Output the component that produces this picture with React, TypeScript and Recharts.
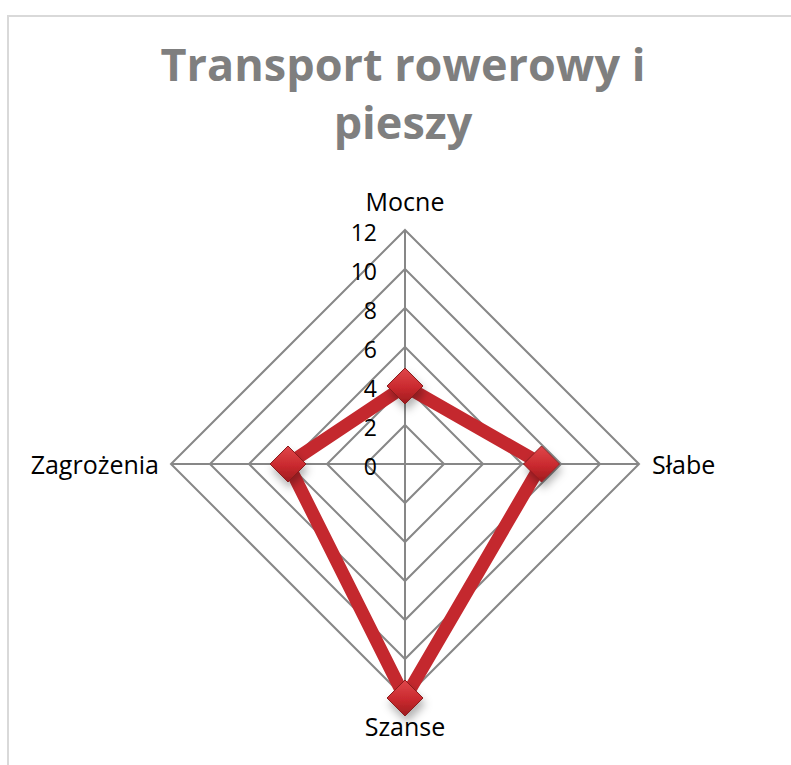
import React from "react";
import {
  RadarChart,
  Radar,
  PolarGrid,
  PolarAngleAxis,
  PolarRadiusAxis,
} from "recharts";

const categories = ["Mocne", "Słabe", "Szanse", "Zagrożenia"];
const values = [4, 7, 12, 6];
const titleLines = ["Transport rowerowy i", "pieszy"];

const data = categories.map((name, i) => ({ name, value: values[i] }));

const LABEL_FONT = "'Open Sans', sans-serif";

// axis label offsets around the outer polygon
const AngleTick = (props: any) => {
  const { x, y, payload } = props;
  const name = payload.value;
  let tx = x;
  let ty = y;
  let anchor: any = "middle";
  if (name === "Mocne") ty = y - 21;
  else if (name === "Szanse") ty = y + 20;
  else if (name === "Słabe") {
    tx = x + 5;
    anchor = "start";
  } else {
    tx = x - 4;
    anchor = "end";
  }
  return (
    <text
      x={tx}
      y={ty}
      textAnchor={anchor}
      dominantBaseline="central"
      fontFamily={LABEL_FONT}
      fontSize={25}
      fill="#000"
    >
      {name}
    </text>
  );
};

const RadiusTick = (props: any) => {
  const { x, y, payload } = props;
  return (
    <text
      x={x - 28}
      y={y + 2}
      textAnchor="end"
      dominantBaseline="central"
      fontFamily={LABEL_FONT}
      fontSize={23}
      fill="#000"
    >
      {payload.value}
    </text>
  );
};

const Diamond = (props: any) => {
  const { cx, cy } = props;
  const s = 18;
  return (
    <polygon
      points={`${cx},${cy - s} ${cx + s},${cy} ${cx},${cy + s} ${cx - s},${cy}`}
      fill="url(#markerFill)"
      stroke="#8a1a1e"
      strokeWidth={1}
      filter="url(#markerShadow)"
    />
  );
};

export default function App() {
  return (
    <div
      style={{
        position: "absolute",
        left: 0,
        top: 0,
        width: 791,
        height: 765,
        overflow: "hidden",
        background: "#fff",
      }}
    >
      <div
        style={{
          position: "absolute",
          left: 7,
          top: 15,
          width: 820,
          height: 800,
          border: "2px solid #d9d9d9",
        }}
      />
      <div
        style={{
          position: "absolute",
          left: 0,
          top: 35,
          width: 806,
          textAlign: "center",
          fontFamily: LABEL_FONT,
          fontWeight: 700,
          fontSize: 45,
          lineHeight: "58px",
          color: "#7f7f7f",
        }}
      >
        {titleLines.map((t) => (
          <div key={t}>{t}</div>
        ))}
      </div>
      <div style={{ position: "absolute", left: 0, top: 0 }}>
        <RadarChart
          width={791}
          height={765}
          data={data}
          cx={405}
          cy={464}
          outerRadius={234}
          startAngle={90}
          endAngle={-270}
        >
          <defs>
            <linearGradient id="markerFill" x1="0" y1="0" x2="0" y2="1">
              <stop offset="0%" stopColor="#e0474b" />
              <stop offset="55%" stopColor="#c9292e" />
              <stop offset="100%" stopColor="#9e1b1f" />
            </linearGradient>
            <filter id="markerShadow" x="-50%" y="-50%" width="200%" height="200%">
              <feDropShadow dx="2" dy="6" stdDeviation="4" floodColor="#000" floodOpacity="0.3" />
            </filter>
          </defs>
          <PolarGrid gridType="polygon" stroke="#878787" strokeWidth={2} strokeOpacity={1} />
          <PolarAngleAxis dataKey="name" tick={AngleTick} tickLine={false} axisLine={false} />
          <PolarRadiusAxis
            angle={90}
            domain={[0, 12]}
            tickCount={7}
            axisLine={false}
            tickLine={false}
            tick={RadiusTick}
          />
          <Radar
            dataKey="value"
            stroke="#c4282e"
            strokeWidth={13}
            fill="none"
            fillOpacity={0}
            dot={Diamond}
            isAnimationActive={false}
          />
        </RadarChart>
      </div>
    </div>
  );
}
